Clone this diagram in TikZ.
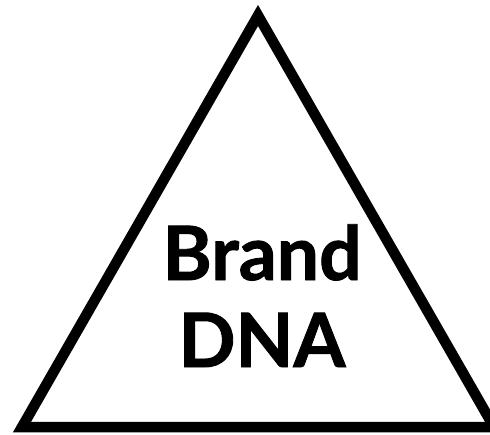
\documentclass[tikz,border=0pt]{standalone}
\usepackage{fontspec}
\setmainfont{Lato}[BoldFeatures={FakeBold=1.2}]
\usetikzlibrary{positioning}

\begin{document}
\begin{tikzpicture}[x=1pt, y=-1pt,
  edge/.style={draw=black, line width=10.5pt, line join=miter},
  label/.style={align=center, font=\fontsize{75}{87}\selectfont\bfseries, inner sep=0pt}]
\useasboundingbox (0,0) rectangle (490,434);
\coordinate (apex) at (258,15.5);
\coordinate (left) at (22,427);
\coordinate (right) at (494,427);
\draw[edge] (apex) -- (left) -- (right) -- cycle;
\node[label, anchor=base] (dna) at (262,367) {Brand\\DNA};
\end{tikzpicture}
\end{document}
